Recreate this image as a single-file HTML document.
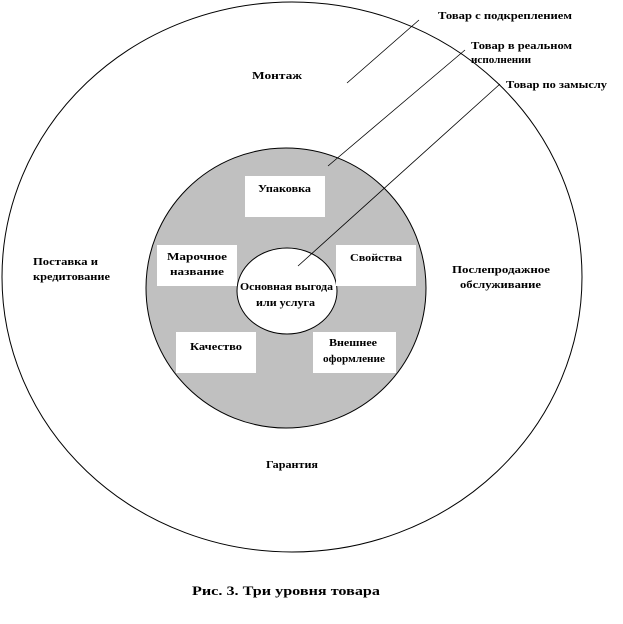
<!DOCTYPE html>
<html><head><meta charset="utf-8"><style>
body{margin:0;background:#fff;}
svg text{font-family:"Liberation Serif",serif;font-weight:bold;font-size:11px;fill:#000;}
</style></head><body>
<svg width="623" height="619" xmlns="http://www.w3.org/2000/svg">
<ellipse cx="292" cy="277" rx="290" ry="275" fill="#fff" stroke="#000" stroke-width="1"/>
<circle cx="286" cy="288" r="140" fill="#c0c0c0" stroke="#000" stroke-width="1"/>
<ellipse cx="287" cy="291" rx="50" ry="43" fill="#fff" stroke="#000" stroke-width="1"/>
<rect x="245" y="176" width="80" height="41" fill="#fff"/>
<rect x="157" y="245" width="80" height="41" fill="#fff"/>
<rect x="336" y="245" width="80" height="41" fill="#fff"/>
<rect x="176" y="332" width="80" height="41" fill="#fff"/>
<rect x="313" y="332" width="83" height="41" fill="#fff"/>
<g stroke="#000" stroke-width="0.8">
<line x1="347" y1="83" x2="419" y2="20"/>
<line x1="328" y1="166" x2="465" y2="50"/>
<line x1="298" y1="266" x2="500" y2="84"/>
</g>
<g lengthAdjust="spacingAndGlyphs">
<text x="438" y="19" textLength="134" lengthAdjust="spacingAndGlyphs">Товар с подкреплением</text>
<text x="471" y="49" textLength="101" lengthAdjust="spacingAndGlyphs">Товар в реальном</text>
<text x="471" y="63" textLength="60" lengthAdjust="spacingAndGlyphs">исполнении</text>
<text x="506" y="88" textLength="101" lengthAdjust="spacingAndGlyphs">Товар по замыслу</text>
<text x="252" y="79" textLength="50" lengthAdjust="spacingAndGlyphs">Монтаж</text>
<text x="258" y="192" textLength="53" lengthAdjust="spacingAndGlyphs">Упаковка</text>
<text x="167" y="260" textLength="60" lengthAdjust="spacingAndGlyphs">Марочное</text>
<text x="170" y="275" textLength="54" lengthAdjust="spacingAndGlyphs">название</text>
<text x="350" y="261" textLength="52" lengthAdjust="spacingAndGlyphs">Свойства</text>
<text x="240" y="290" textLength="93" lengthAdjust="spacingAndGlyphs">Основная выгода</text>
<text x="256" y="306" textLength="59" lengthAdjust="spacingAndGlyphs">или услуга</text>
<text x="190" y="350" textLength="52" lengthAdjust="spacingAndGlyphs">Качество</text>
<text x="329" y="346" textLength="48" lengthAdjust="spacingAndGlyphs">Внешнее</text>
<text x="323" y="362" textLength="62" lengthAdjust="spacingAndGlyphs">оформление</text>
<text x="33" y="265" textLength="65" lengthAdjust="spacingAndGlyphs">Поставка и</text>
<text x="33" y="280" textLength="77" lengthAdjust="spacingAndGlyphs">кредитование</text>
<text x="452" y="273" textLength="98" lengthAdjust="spacingAndGlyphs">Послепродажное</text>
<text x="460" y="288" textLength="81" lengthAdjust="spacingAndGlyphs">обслуживание</text>
<text x="266" y="468" textLength="52" lengthAdjust="spacingAndGlyphs">Гарантия</text>
<text x="192" y="595" style="font-size:13px" textLength="188" lengthAdjust="spacingAndGlyphs">Рис. 3. Три уровня товара</text>
</g>
</svg>
</body></html>
